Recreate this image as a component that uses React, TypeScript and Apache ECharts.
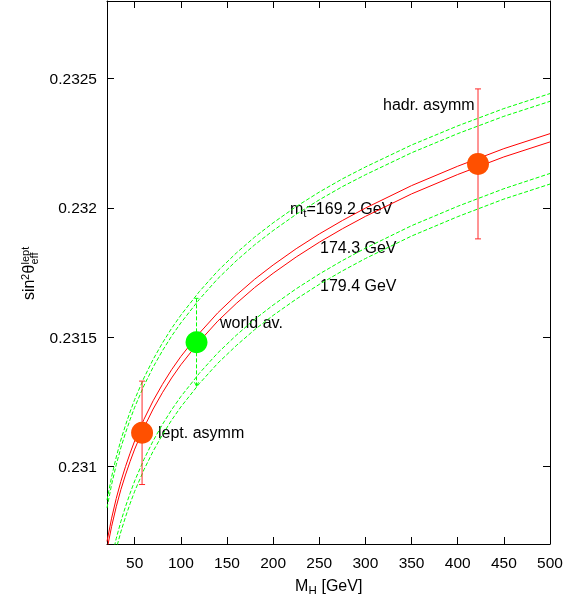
import React, { useEffect, useRef } from "react";
import * as echarts from "echarts";

// Higgs mass grid (GeV)
const massGrid = [20, 25, 30, 35, 40, 45, 50, 60, 70, 80, 90, 100, 120, 140, 160, 180, 200, 225, 250, 275, 300, 350, 400, 450, 500];

// m_t = 169.2 GeV band (green, dashed)
const green169Upper = [0.23087, 0.23096, 0.231036, 0.231102, 0.231159, 0.231211, 0.231259, 0.231342, 0.231414, 0.231477, 0.231534, 0.231585, 0.231676, 0.231756, 0.231825, 0.231887, 0.231942, 0.232005, 0.232061, 0.232112, 0.232158, 0.232243, 0.232317, 0.232384, 0.232442];
const green169Lower = [0.23084, 0.23093, 0.231006, 0.231072, 0.231129, 0.231181, 0.231229, 0.231312, 0.231384, 0.231447, 0.231504, 0.231555, 0.231646, 0.231726, 0.231795, 0.231857, 0.231912, 0.231975, 0.232031, 0.232082, 0.232128, 0.232213, 0.232287, 0.232354, 0.232412];
// m_t = 174.3 GeV band (red, solid)
const red174Upper = [0.23071, 0.2308, 0.230876, 0.230942, 0.230999, 0.231051, 0.231099, 0.231182, 0.231254, 0.231317, 0.231374, 0.231425, 0.231515, 0.231594, 0.231662, 0.231724, 0.231779, 0.231842, 0.231899, 0.231951, 0.231999, 0.232086, 0.232161, 0.232229, 0.232287];
const red174Lower = [0.230678, 0.230768, 0.230844, 0.23091, 0.230967, 0.231019, 0.231067, 0.23115, 0.231222, 0.231285, 0.231342, 0.231393, 0.231483, 0.231562, 0.23163, 0.231692, 0.231747, 0.23181, 0.231867, 0.231919, 0.231967, 0.232054, 0.232129, 0.232197, 0.232255];
// m_t = 179.4 GeV band (green, dashed)
const green179Upper = [0.230555, 0.230645, 0.230721, 0.230787, 0.230844, 0.230896, 0.230944, 0.231027, 0.231099, 0.231162, 0.231219, 0.23127, 0.23136, 0.231439, 0.231507, 0.231569, 0.231624, 0.231687, 0.231744, 0.231796, 0.231844, 0.231931, 0.232006, 0.232074, 0.232133];
const green179Lower = [0.230515, 0.230605, 0.230681, 0.230747, 0.230804, 0.230856, 0.230904, 0.230987, 0.231059, 0.231122, 0.231179, 0.23123, 0.23132, 0.231399, 0.231467, 0.231529, 0.231584, 0.231647, 0.231704, 0.231756, 0.231804, 0.231891, 0.231966, 0.232034, 0.232092];

// measurements
const measNames = ["lept. asymm", "world av.", "hadr. asymm"];
const measMass = [58, 117, 422];
const measValue = [0.23113, 0.23148, 0.23217];
const measLow = [0.23093, 0.23131, 0.23188];
const measHigh = [0.23133, 0.23165, 0.23246];

// axes
const xTicks = [50, 100, 150, 200, 250, 300, 350, 400, 450, 500];
const yTicks = [0.231, 0.2315, 0.232, 0.2325];
const yTickLabels = ["0.231", "0.2315", "0.232", "0.2325"];

const FONT = "'Liberation Sans', Arial, Helvetica, sans-serif";
const RED = "#ff0000";
const GREEN = "#00ff00";
const ORANGE = "#ff5000";

function pair(ys: number[]) {
  return massGrid.map((m, i) => [m, ys[i]]);
}

function txt(text: string, x: number, y: number, size = 16, extra: any = {}) {
  return {
    type: "text",
    x,
    y,
    silent: true,
    style: {
      text,
      fill: "#000",
      fontSize: size,
      fontFamily: FONT,
      align: "left",
      verticalAlign: "middle",
      ...extra,
    },
  };
}

export default function App() {
  const ref = useRef<HTMLDivElement>(null);
  useEffect(() => {
    if (!ref.current) return;
    const chart = echarts.init(ref.current, null, { renderer: "svg" });

    const curve = (name: string, ys: number[], color: string, dashed: boolean) => ({
      name,
      type: "line",
      data: pair(ys),
      showSymbol: false,
      symbol: "none",
      smooth: false,
      clip: true,
      z: 2,
      lineStyle: { color, width: 1, type: dashed ? [4, 2] : "solid" },
    });

    const axisCommon = {
      type: "value",
      axisLine: { show: true, onZero: false, lineStyle: { color: "#000", width: 1 } },
      splitLine: { show: false },
    };

    const option: any = {
      animation: false,
      grid: { left: 107, right: 14, top: 1, bottom: 55, containLabel: false, outerBoundsMode: "none" },
      xAxis: [
        {
          ...axisCommon,
          position: "bottom",
          min: 20,
          max: 500,
          axisTick: { show: true, inside: true, length: 7, customValues: xTicks, lineStyle: { color: "#000" } },
          axisLabel: { show: true, customValues: xTicks, color: "#000", fontSize: 15.5, fontFamily: FONT, margin: 10 },
        },
        {
          ...axisCommon,
          position: "top",
          min: 20,
          max: 500,
          axisTick: { show: true, inside: true, length: 7, customValues: xTicks, lineStyle: { color: "#000" } },
          axisLabel: { show: false },
        },
      ],
      yAxis: [
        {
          ...axisCommon,
          position: "left",
          min: 0.2307,
          max: 0.2328,
          axisTick: { show: true, inside: true, length: 7, customValues: yTicks, lineStyle: { color: "#000" } },
          axisLabel: {
            show: true,
            customValues: yTicks,
            color: "#000",
            fontSize: 15.5,
            fontFamily: FONT,
            margin: 10,
            formatter: (v: number) => {
              let best = 0;
              yTicks.forEach((t, i) => {
                if (Math.abs(t - v) < Math.abs(yTicks[best] - v)) best = i;
              });
              return yTickLabels[best];
            },
          },
        },
        {
          ...axisCommon,
          position: "right",
          min: 0.2307,
          max: 0.2328,
          axisTick: { show: true, inside: true, length: 7, customValues: yTicks, lineStyle: { color: "#000" } },
          axisLabel: { show: false },
        },
      ],
      series: [
        curve("169.2 upper", green169Upper, GREEN, true),
        curve("169.2 lower", green169Lower, GREEN, true),
        curve("174.3 upper", red174Upper, RED, false),
        curve("174.3 lower", red174Lower, RED, false),
        curve("179.4 upper", green179Upper, GREEN, true),
        curve("179.4 lower", green179Lower, GREEN, true),
        {
          type: "custom",
          z: 3,
          data: measMass.map((m, i) => [m, measLow[i], measHigh[i], i === 1 ? 1 : 0]),
          encode: { x: 0, y: [1, 2] },
          renderItem: (_params: any, api: any) => {
            const x = api.value(0);
            const lo = api.value(1);
            const hi = api.value(2);
            const kind = api.value(3);
            const top = api.coord([x, hi]);
            const bot = api.coord([x, lo]);
            const color = kind === 1 ? GREEN : "#ff2a2a";
            const cap = kind === 1 ? 2 : 3;
            const children: any[] = [
              {
                type: "line",
                shape: { x1: top[0], y1: top[1], x2: bot[0], y2: bot[1] },
                style: { stroke: color, lineWidth: 1, lineDash: kind === 1 ? [4, 2] : null },
              },
              {
                type: "line",
                shape: { x1: top[0] - cap, y1: top[1], x2: top[0] + cap, y2: top[1] },
                style: { stroke: color, lineWidth: 1 },
              },
            ];
            if (kind === 1) {
              children.push({
                type: "polyline",
                shape: { points: [[bot[0] - 2, bot[1] - 4], [bot[0], bot[1]], [bot[0] + 2, bot[1] - 4]] },
                style: { stroke: color, lineWidth: 1, fill: null },
              });
            } else {
              children.push({
                type: "line",
                shape: { x1: bot[0] - cap, y1: bot[1], x2: bot[0] + cap, y2: bot[1] },
                style: { stroke: color, lineWidth: 1 },
              });
            }
            return { type: "group", children };
          },
        },
        {
          type: "scatter",
          name: "asymmetries",
          z: 4,
          symbolSize: 22,
          itemStyle: { color: ORANGE, opacity: 1 },
          data: [0, 2].map((i) => ({ name: measNames[i], value: [measMass[i], measValue[i]] })),
        },
        {
          type: "scatter",
          name: "world average",
          z: 4,
          symbolSize: 22,
          itemStyle: { color: GREEN, opacity: 1 },
          data: [{ name: measNames[1], value: [measMass[1], measValue[1]] }],
        },
      ],
      graphic: [
        // x axis title: M_H [GeV]
        txt("M", 295, 585),
        txt("H", 308.5, 590, 11.5),
        txt(" [GeV]", 317, 585),
        // y axis title: sin^2 theta_eff^lept (rotated)
        {
          type: "group",
          x: 36,
          y: 300,
          rotation: Math.PI / 2,
          silent: true,
          children: [
            txt("sin", 0, 0, 16, { verticalAlign: "bottom" }),
            txt("2", 20, -6, 11, { verticalAlign: "bottom" }),
            txt("θ", 26.5, 0, 16, { verticalAlign: "bottom" }),
            txt("lept", 35.5, -6, 11, { verticalAlign: "bottom" }),
            txt("eff", 35.5, 3, 11, { verticalAlign: "bottom" }),
          ],
        },
        // annotations
        txt(measNames[0], 158, 432),
        txt(measNames[1], 220, 322),
        txt(measNames[2], 383, 104),
        txt("m", 290, 208),
        txt("t", 303.3, 213, 11.5),
        txt("=169.2 GeV", 306.5, 208),
        txt("174.3 GeV", 320, 247),
        txt("179.4 GeV", 320, 285),
      ],
    };

    chart.setOption(option);
    return () => chart.dispose();
  }, []);

  return <div ref={ref} style={{ position: "fixed", left: 0, top: 0, width: 564, height: 599 }} />;
}
